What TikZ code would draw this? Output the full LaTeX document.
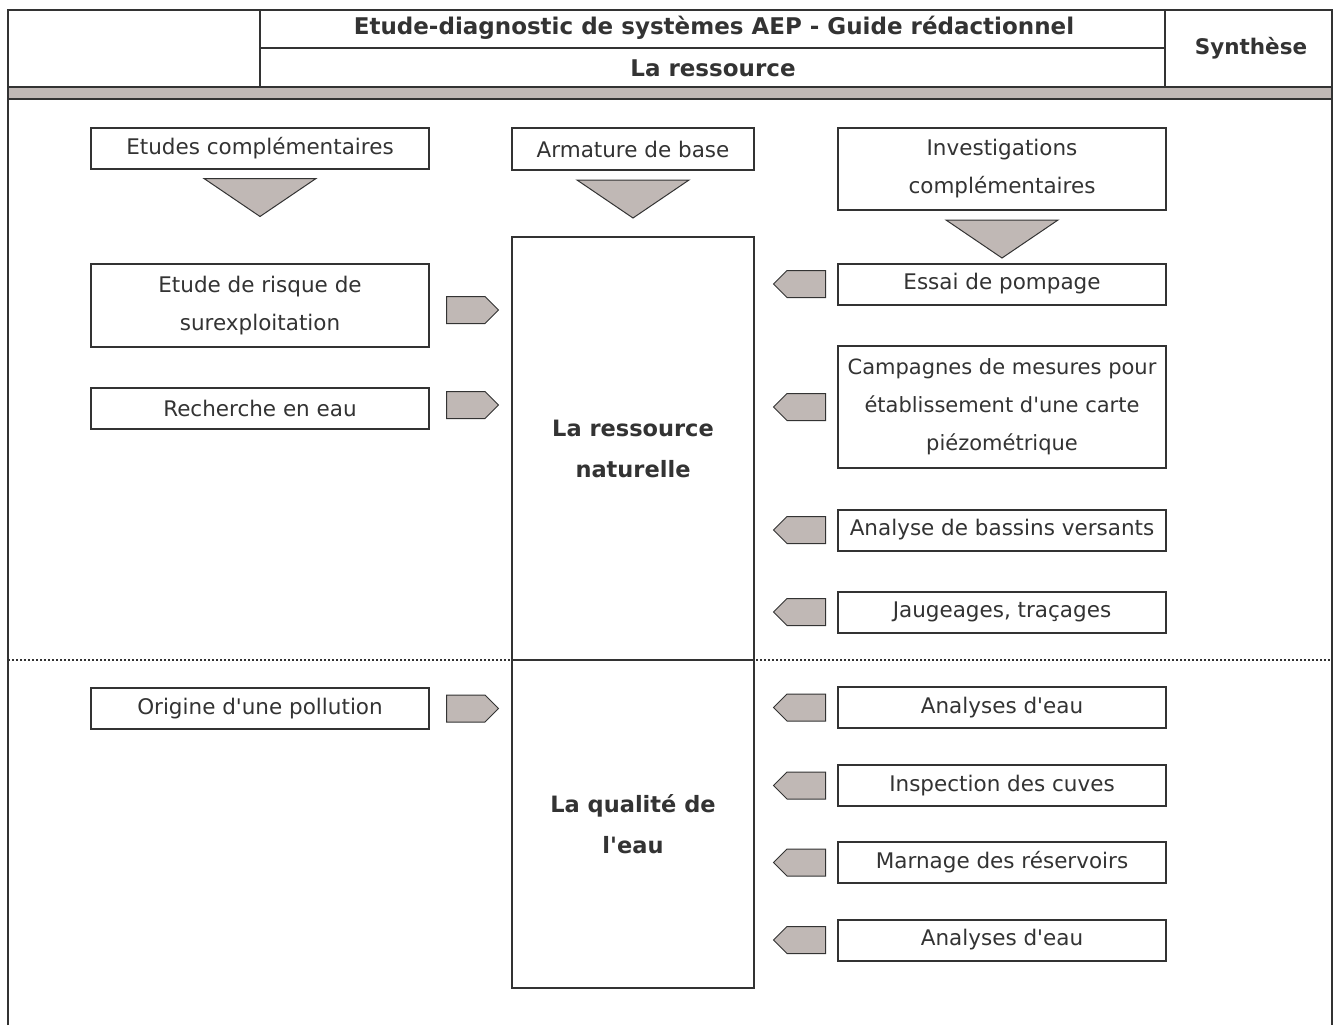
\documentclass[tikz,border=0pt]{standalone}
\usepackage{fontspec}
\setmainfont{DejaVu Sans}[Ligatures=TeXOff]
\usetikzlibrary{shapes.symbols,positioning}
\definecolor{trait}{HTML}{333333}
\definecolor{gris}{HTML}{C0B8B5}

\tikzset{
    bloc/.style={draw=trait, line width=2pt, fill=white, text=trait, align=center,
        inner sep=0pt, font=\fontsize{21.5}{38}\selectfont},
    gauche/.style={bloc, minimum width=338pt, minimum height=41pt},
    droite/.style={bloc, minimum width=328pt, minimum height=41pt},
    centre/.style={bloc, minimum width=242pt, font=\bfseries\fontsize{22.5}{41}\selectfont},
    pointe/.style={draw=trait, line width=1pt, fill=gris},
    flechedr/.style={signal, signal to=east, draw=trait, line width=1pt, fill=gris,
        minimum width=52pt, minimum height=27pt, inner sep=0pt},
    flechega/.style={flechedr, signal to=west},
    titre/.style={text=trait, font=\bfseries\fontsize{23}{25}\selectfont}
}

\begin{document}
\begin{tikzpicture}[x=1pt, y=-1pt]
\useasboundingbox (0,0) rectangle (1340,1025);

% cadre et en-tete
\fill[gris] (8,87) rectangle (1332,99);
\draw[trait, line width=2.5pt] (8,1025) -- (8,10) -- (1332,10) -- (1332,1025);
\draw[trait, line width=2.5pt] (8,87) -- (1332,87) (8,99) -- (1332,99)
    (260,10) -- (260,87) (1165,10) -- (1165,87) (260,48) -- (1165,48);
\node[titre] (titre) at (714,28) {Etude-diagnostic de systèmes AEP - Guide rédactionnel};
\node[titre] (sstitre) at (713,68) {La ressource};
\node[titre, font=\bfseries\fontsize{21.5}{25}\selectfont] (synthese) at (1251,48) {Synthèse};

\draw[trait, line width=2pt, dash pattern=on 2pt off 2pt] (8,660) -- (1332,660);

% colonne centrale
\node[bloc, minimum width=242pt, minimum height=42pt] (armature) at (633,149) {Armature de base};
\node[centre, minimum height=423pt] (naturelle) at (633,448.5) {La ressource\\naturelle};
\node[centre, minimum height=328pt] (qualite) at (633,824) {La qualité de\\l'eau};

% colonne gauche
\node[gauche] (etudes) at (260,148) {Etudes complémentaires};
\node[gauche, minimum height=83pt] (risque) at (260,305.5) {Etude de risque de\\surexploitation};
\node[gauche] (recherche) at (260,408) {Recherche en eau};
\node[gauche] (origine) at (260,708.5) {Origine d'une pollution};

% colonne droite
\node[droite, minimum height=82pt] (investig) at (1002,169) {Investigations\\complémentaires};
\node[droite] (pompage) at (1002,284) {Essai de pompage};
\node[droite, minimum height=122pt, font=\fontsize{21}{38}\selectfont] (piezo) at (1002,407) {Campagnes de mesures pour\\établissement d'une carte\\piézométrique};
\node[droite] (bassins) at (1002,530) {Analyse de bassins versants};
\node[droite] (jaugeage) at (1002,612) {Jaugeages, traçages};
\node[droite] (analyse1) at (1002,707.5) {Analyses d'eau};
\node[droite] (cuves) at (1002,785.5) {Inspection des cuves};
\node[droite] (marnage) at (1002,862.5) {Marnage des réservoirs};
\node[droite] (analyse2) at (1002,940) {Analyses d'eau};

\foreach \b in {etudes, armature, investig}
    \draw[pointe] ([yshift=-9pt]\b.south) ++(-56,0) -- ++(112,0) -- ++(-56,38) -- cycle;

\foreach \b/\d in {risque/-4.5, recherche/3, origine/0}
    \node[flechedr, right=16pt of \b, yshift=\d pt] (f-\b) {};

\foreach \b in {pompage, piezo, bassins, jaugeage, analyse1, cuves, marnage, analyse2}
    \node[flechega, left=11pt of \b] (f-\b) {};

\end{tikzpicture}
\end{document}
